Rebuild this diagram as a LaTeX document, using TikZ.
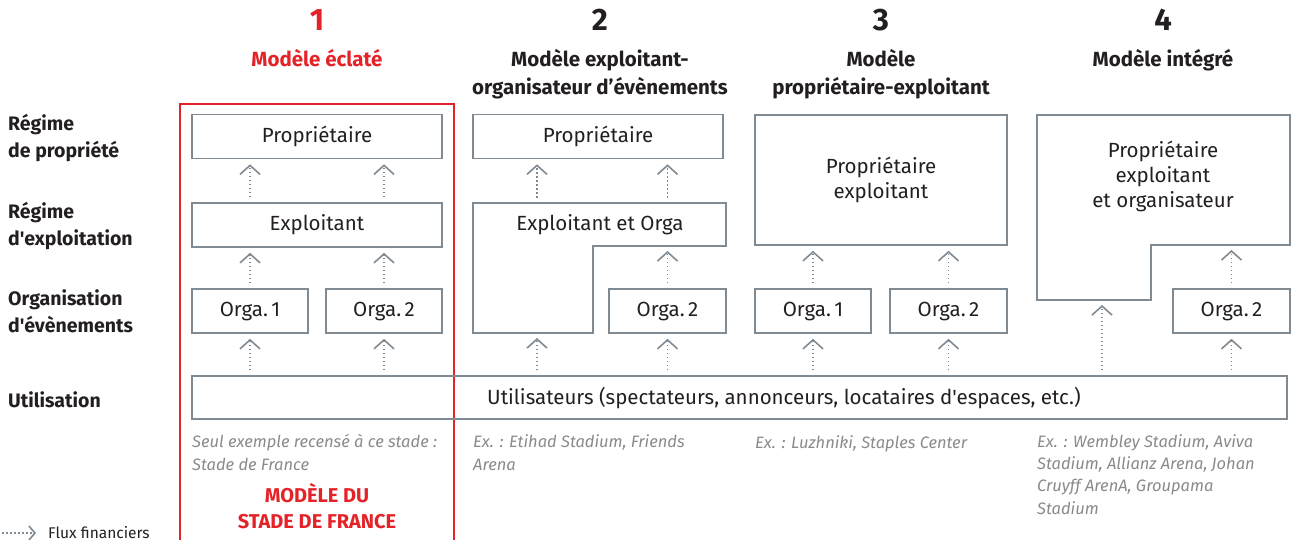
\documentclass[tikz,border=0pt]{standalone}
\usepackage{fontspec}
\setmainfont{Fira Sans}[Ligatures=TeXOff]
\usetikzlibrary{arrows.meta}

\definecolor{boxgray}{RGB}{128,138,147}
\definecolor{sdfred}{RGB}{228,35,40}
\definecolor{txtdark}{RGB}{35,31,32}
\definecolor{notegray}{RGB}{138,138,138}

\tikzset{
  box/.style={draw=boxgray, line width=1.6pt, inner sep=0pt, minimum height=44pt,
    text=txtdark, align=center, font=\fontsize{20.5}{25}\selectfont},
  boxtext/.style={inner sep=0pt, text=txtdark, align=center, font=\fontsize{20.5}{25}\selectfont},
  lshape/.style={draw=boxgray, line width=1.6pt},
  flux/.style={boxgray, line width=1.6pt, dash pattern=on 1.6pt off 2.4pt,
    shorten <=5pt, shorten >=5pt, -{Straight Barb[length=9pt,width=20pt]}},
  number/.style={inner sep=0pt, font=\fontsize{31}{31}\bfseries\selectfont, text=txtdark},
  title/.style={inner sep=0pt, align=center, font=\fontsize{20.5}{28}\bfseries\selectfont, text=txtdark},
  rowlabel/.style={inner sep=0pt, align=left, font=\fontsize{19.5}{27}\bfseries\selectfont, text=txtdark},
  note/.style={inner sep=0pt, align=left, font=\fontsize{16.5}{22.3}\itshape\selectfont, text=notegray}
}

\begin{document}
\begin{tikzpicture}[x=1pt,y=-1pt]
    \useasboundingbox (0,0) rectangle (1296,540);

    % headings
    \node[number, text=sdfred] (n1) at (317,20) {1};
    \node[number] (n2) at (600,20) {2};
    \node[number] (n3) at (881,20) {3};
    \node[number] (n4) at (1163,20) {4};

    \node[title, text=sdfred, anchor=base] (t1) at (317,67) {Modèle éclaté};
    \node[title, anchor=base] (t2) at (600,95) {Modèle exploitant-\\organisateur d’évènements};
    \node[title, anchor=base] (t3) at (881,95) {Modèle\\propriétaire-exploitant};
    \node[title, anchor=base] (t4) at (1163,67) {Modèle intégré};

    % row labels (base = last line)
    \node[rowlabel, anchor=base west] (r1) at (8,158) {Régime\\de propriété};
    \node[rowlabel, anchor=base west] (r2) at (8,246) {Régime\\d'exploitation};
    \node[rowlabel, anchor=base west] (r3) at (8,332) {Organisation\\d'évènements};
    \node[rowlabel, anchor=base west] (r4) at (8,407) {Utilisation};

    % model 1 frame
    \draw[sdfred, line width=2.2pt] (180,545) -- (180,104) -- (454,104) -- (454,545);

    % model 1
    \node[box, minimum width=250pt] (prop1) at (317,136.5) {Propriétaire};
    \node[box, minimum width=250pt] (expl1) at (317,225) {Exploitant};
    \node[box, minimum width=116pt] (orga11) at (250,311) {Orga.\,1};
    \node[box, minimum width=116pt] (orga12) at (384,311) {Orga.\,2};

    % users
    \node[box, minimum width=1095pt, minimum height=43pt] (util) at (739.5,397.5) {};
    \node[boxtext] (utiltext) at (784,398) {Utilisateurs (spectateurs, annonceurs, locataires d'espaces, etc.)};

    % model 2
    \node[box, minimum width=250pt] (prop2) at (598,136.5) {Propriétaire};
    \draw[lshape] (473,203) -- (726,203) -- (726,246) -- (593,246) -- (593,333) -- (473,333) -- cycle;
    \node[boxtext] (expl2) at (600,225) {Exploitant et Orga};
    \coordinate (l2top) at (537,203);
    \coordinate (l2bot) at (537,333);
    \coordinate (l2step) at (667,246);
    \node[box, minimum width=117pt] (orga22) at (667.5,311) {Orga.\,2};

    % model 3
    \node[box, minimum width=252pt, minimum height=130pt] (prop3) at (881,180) {Propriétaire\\exploitant};
    \node[box, minimum width=116pt] (orga31) at (813,311) {Orga.\,1};
    \node[box, minimum width=117pt] (orga32) at (948.5,311) {Orga.\,2};

    % model 4
    \draw[lshape] (1037,115) -- (1290,115) -- (1290,245) -- (1151,245) -- (1151,300) -- (1037,300) -- cycle;
    \node[boxtext] (prop4) at (1163,176) {Propriétaire\\exploitant\\et organisateur};
    \coordinate (l4bot) at (1102,300);
    \coordinate (l4step) at (1232,245);
    \node[box, minimum width=117pt] (orga42) at (1231.5,311) {Orga.\,2};

    % financial flows
    \foreach \o in {orga11,orga12,orga22,orga31,orga32,orga42}
        \draw[flux] (util.north -| \o) -- (\o.south);
    \foreach \o in {orga11,orga12}
        \draw[flux] (\o.north) -- (expl1.south -| \o);
    \foreach \o in {orga11,orga12}
        \draw[flux] (expl1.north -| \o) -- (prop1.south -| \o);
    \draw[flux] (util.north -| l2bot) -- (l2bot);
    \draw[flux] (l2top) -- (prop2.south -| l2top);
    \draw[flux] (l2top -| orga22) -- (prop2.south -| orga22);
    \draw[flux] (orga22.north) -- (l2step -| orga22);
    \draw[flux] (orga31.north) -- (prop3.south -| orga31);
    \draw[flux] (orga32.north) -- (prop3.south -| orga32);
    \draw[flux] (util.north -| l4bot) -- (l4bot);
    \draw[flux] (orga42.north) -- (l4step -| orga42);

    % examples (base = last line)
    \node[note, anchor=base west] (ex1) at (192,470) {Seul exemple recensé à ce stade :\\Stade de France};
    \node[note, anchor=base west] (ex2) at (473,470) {Ex. : Etihad Stadium, Friends\\Arena};
    \node[note, anchor=base west] (ex3) at (755,448) {Ex. : Luzhniki, Staples Center};
    \node[note, anchor=base west] (ex4) at (1037,514) {Ex. : Wembley Stadium, Aviva\\Stadium, Allianz Arena, Johan\\Cruyff ArenA, Groupama\\Stadium};

    \node[title, text=sdfred, anchor=base, font=\fontsize{20}{26}\bfseries\selectfont] (sdf) at (317,528) {MODÈLE DU\\STADE DE FRANCE};

    % legend
    \coordinate (legtail) at (2,533);
    \node[inner sep=0pt, anchor=base west, text=txtdark, font=\fontsize{15.5}{15.5}\selectfont] (legtext) at (48,538) {Flux financiers};
    \draw[flux, shorten <=0pt, shorten >=0pt, -{Straight Barb[length=6pt,width=14pt]}] (legtail) -- (legtail -| 36,0);
\end{tikzpicture}
\end{document}
